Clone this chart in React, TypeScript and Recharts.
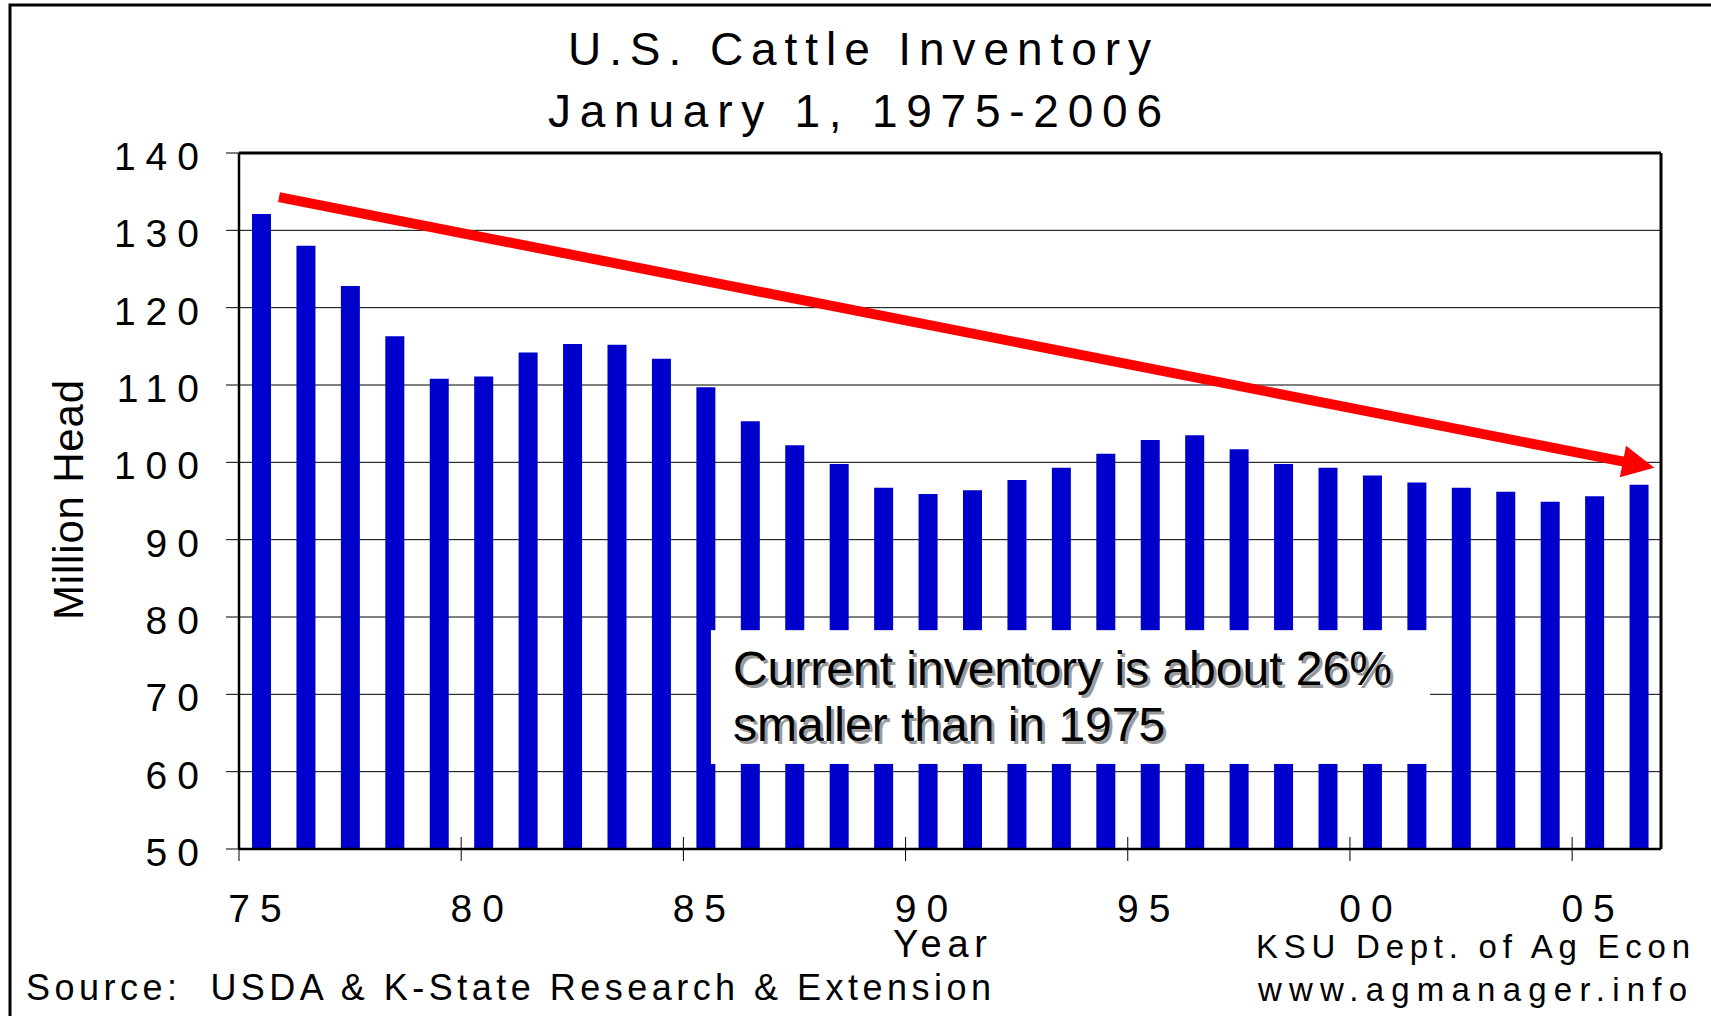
import {
  BarChart,
  Bar,
  XAxis,
  YAxis,
  CartesianGrid,
  ReferenceLine,
  ReferenceArea,
} from "recharts";

const FONT = "'Liberation Sans', Arial, sans-serif";

// January 1 cattle inventory, million head
const years = [
  1975, 1976, 1977, 1978, 1979, 1980, 1981, 1982, 1983, 1984, 1985, 1986, 1987, 1988, 1989, 1990,
  1991, 1992, 1993, 1994, 1995, 1996, 1997, 1998, 1999, 2000, 2001, 2002, 2003, 2004, 2005, 2006,
];
const cattle = [
  132.1, 128.0, 122.8, 116.3, 110.8, 111.1, 114.2, 115.3, 115.2, 113.4, 109.7, 105.3, 102.2, 99.8,
  96.7, 95.9, 96.4, 97.7, 99.3, 101.1, 102.9, 103.5, 101.7, 99.8, 99.3, 98.3, 97.4, 96.7, 96.2,
  94.9, 95.6, 97.1,
];

const yTicks = [50, 60, 70, 80, 90, 100, 110, 120, 130, 140];
const xTickYears = [1975, 1980, 1985, 1990, 1995, 2000, 2005];
const xTickLabels = ["75", "80", "85", "90", "95", "00", "05"];

// trend arrow and note box, in data units
const trendStart = { x: 1975.4, y: 134.3 };
const trendEnd = { x: 2006.35, y: 99.3 };
const noteBox = { x1: 1985.12, x2: 2001.3, y1: 61.0, y2: 78.3 };
const noteLines = ["Current inventory is about 26%", "smaller than in 1975"];

const data = years.map((year, i) => ({ year, head: cattle[i] }));

function XTick({ x, y, payload }: any) {
  const idx = xTickYears.indexOf(Math.round(payload.value + 0.5));
  return (
    <g>
      <line x1={x} x2={x} y1={y - 12} y2={y + 12} stroke="#000" strokeWidth={1} />
      <text
        x={x + 21}
        y={y + 73}
        textAnchor="middle"
        fontSize={39}
        letterSpacing={10}
        fontFamily={FONT}
        fill="#000"
      >
        {xTickLabels[idx]}
      </text>
    </g>
  );
}

function YTick({ x, y, payload }: any) {
  return (
    <g>
      <line x1={x - 13} x2={x} y1={y} y2={y} stroke="#000" strokeWidth={1} />
      <text
        x={x - 30}
        y={y + 17}
        textAnchor="end"
        fontSize={39}
        letterSpacing={10}
        fontFamily={FONT}
        fill="#000"
      >
        {payload.value}
      </text>
    </g>
  );
}

function TrendArrow(props: any) {
  const { x1, y1, x2, y2 } = props;
  const dx = x2 - x1;
  const dy = y2 - y1;
  const len = Math.hypot(dx, dy);
  const ux = dx / len;
  const uy = dy / len;
  const headLen = 32;
  const headHalf = 16;
  const bx = x2 - ux * headLen;
  const by = y2 - uy * headLen;
  return (
    <g>
      <line x1={x1} y1={y1} x2={bx + ux * 2} y2={by + uy * 2} stroke="#FF0000" strokeWidth={10} />
      <polygon
        points={`${x2},${y2} ${bx - uy * headHalf},${by + ux * headHalf} ${bx + uy * headHalf},${by - ux * headHalf}`}
        fill="#FF0000"
      />
    </g>
  );
}

function NoteBox({ x, y, width, height }: any) {
  return (
    <g>
      <rect x={x} y={y} width={width} height={height} fill="#fff" />
      {noteLines.map((line, i) => (
        <g key={i} fontFamily={FONT} fontSize={48}>
          <text x={x + 25} y={y + 58 + i * 56} fill="#9a9a9a">
            {line}
          </text>
          <text x={x + 22} y={y + 55 + i * 56} fill="#000">
            {line}
          </text>
        </g>
      ))}
    </g>
  );
}

export default function App() {
  return (
    <div
      style={{
        position: "absolute",
        left: 0,
        top: 0,
        width: 1711,
        height: 1016,
        background: "#fff",
        overflow: "hidden",
      }}
    >
      <BarChart
        width={1711}
        height={1016}
        data={data}
        margin={{ top: 153, right: 50, left: 179, bottom: 67 }}
      >
        <CartesianGrid horizontal vertical={false} stroke="#000" strokeWidth={1} />
        <XAxis
          dataKey="year"
          type="number"
          domain={[1974.5, 2006.5]}
          ticks={xTickYears.map((yr) => yr - 0.5)}
          height={100}
          tickSize={0}
          tickMargin={0}
          tickLine={false}
          tick={<XTick />}
          axisLine={{ stroke: "#000", strokeWidth: 2.5 }}
          interval={0}
        />
        <YAxis
          type="number"
          domain={[50, 140]}
          ticks={yTicks}
          width={60}
          tickSize={0}
          tickMargin={0}
          tickLine={false}
          tick={<YTick />}
          axisLine={{ stroke: "#000", strokeWidth: 2.5 }}
          interval={0}
        />
        <Bar dataKey="head" fill="#0000CC" barSize={19} isAnimationActive={false} />
        <ReferenceLine y={140} stroke="#000" strokeWidth={3} />
        <ReferenceLine x={2006.5} stroke="#000" strokeWidth={3} />
        <ReferenceArea
          x1={noteBox.x1}
          x2={noteBox.x2}
          y1={noteBox.y1}
          y2={noteBox.y2}
          shape={<NoteBox />}
          zIndex={1500}
        />
        <ReferenceLine segment={[trendStart, trendEnd]} shape={<TrendArrow />} zIndex={1600} />
      </BarChart>
      <svg
        width={1711}
        height={1016}
        style={{ position: "absolute", left: 0, top: 0, pointerEvents: "none" }}
        fontFamily={FONT}
        fill="#000"
      >
        <path d="M 10 1016 V 5 H 1711" fill="none" stroke="#000" strokeWidth={3} />
        <text x={568} y={65} fontSize={46} textLength={583} lengthAdjust="spacing">
          U.S. Cattle Inventory
        </text>
        <text x={548} y={127} fontSize={46} textLength={614} lengthAdjust="spacing">
          January 1, 1975-2006
        </text>
        <text
          transform="translate(83 500) rotate(-90)"
          textAnchor="middle"
          fontSize={42}
          textLength={240}
          lengthAdjust="spacing"
        >
          Million Head
        </text>
        <text x={893} y={957} fontSize={38} textLength={94} lengthAdjust="spacing">
          Year
        </text>
        <text x={1256} y={958} fontSize={33} textLength={434} lengthAdjust="spacing">
          KSU Dept. of Ag Econ
        </text>
        <text x={1258} y={1001} fontSize={33} textLength={429} lengthAdjust="spacing">
          www.agmanager.info
        </text>
        <text
          x={26}
          y={1000}
          fontSize={36}
          textLength={965}
          lengthAdjust="spacing"
          style={{ whiteSpace: "pre" }}
        >
          {"Source:  USDA & K-State Research & Extension"}
        </text>
      </svg>
    </div>
  );
}
